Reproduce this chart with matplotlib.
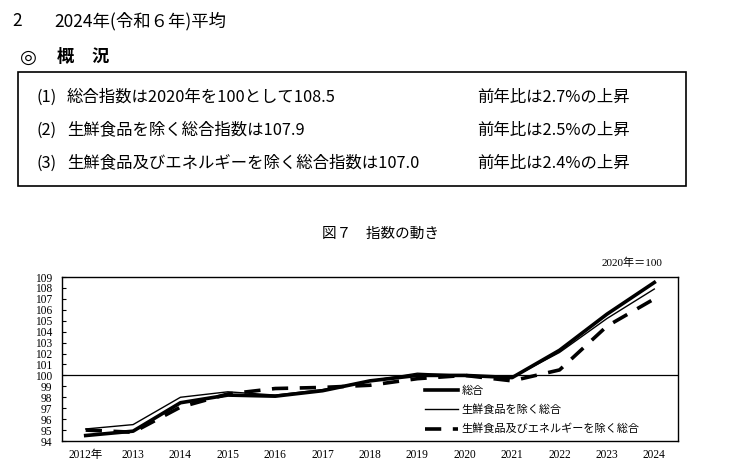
import numpy as np
import matplotlib.pyplot as plt
from matplotlib.patches import Rectangle

plt.rcParams['font.family'] = ['Noto Sans CJK JP', 'DejaVu Sans']

# データ（2020年=100）
years = ["2012年", "2013", "2014", "2015", "2016", "2017", "2018",
         "2019", "2020", "2021", "2022", "2023", "2024"]
sogo = [94.5, 94.9, 97.5, 98.2, 98.1, 98.6, 99.5, 100.0, 100.0, 99.8, 102.3, 105.6, 108.5]
core = [95.1, 95.5, 98.0, 98.5, 98.2, 98.7, 99.5, 100.2, 100.0, 99.8, 102.1, 105.2, 107.9]
corecore = [95.0, 94.8, 97.1, 98.3, 98.8, 98.9, 99.1, 99.7, 100.0, 99.5, 100.5, 104.5, 107.0]
labels = ["総合", "生鮮食品を除く総合", "生鮮食品及びエネルギーを除く総合"]

rows = [("(1)", "総合指数は2020年を100として108.5", "前年比は2.7%の上昇"),
        ("(2)", "生鮮食品を除く総合指数は107.9", "前年比は2.5%の上昇"),
        ("(3)", "生鮮食品及びエネルギーを除く総合指数は107.0", "前年比は2.4%の上昇")]

W, H = 730, 475
fig = plt.figure(figsize=(W / 100, H / 100), dpi=100)

def fx(x):
    return x / W

def fy(y):
    return 1 - y / H

# 見出し
fig.text(fx(12), fy(21), "2", fontsize=12.5, va='center')
fig.text(fx(54), fy(21), "2024年(令和６年)平均", fontsize=12.5, va='center')
fig.text(fx(20), fy(57), "◎", fontsize=14, va='center', family=['DejaVu Sans'])
fig.text(fx(57), fy(57), "概", fontsize=12.5, va='center', weight='bold')
fig.text(fx(92), fy(57), "況", fontsize=12.5, va='center', weight='bold')

# 枠
fig.patches.append(Rectangle((fx(18), fy(186)), fx(686) - fx(18), fy(72) - fy(186),
                             transform=fig.transFigure, fill=False, lw=1.2, ec='black'))
for i, (n, t, r) in enumerate(rows):
    yy = 97 + 33 * i
    fig.text(fx(37), fy(yy), n, fontsize=11.8, va='center')
    fig.text(fx(67), fy(yy), t, fontsize=11.8, va='center')
    fig.text(fx(477), fy(yy), r, fontsize=11.8, va='center')

serif = ['Liberation Serif', 'Noto Sans CJK JP']
fig.text(fx(381), fy(234), "図７　指数の動き", fontsize=10.5, ha='center', va='center')
fig.text(fx(662), fy(263), "2020年＝100", fontsize=8, ha='right', va='center', family=serif)

# グラフ
ax = fig.add_axes([fx(62), fy(441), fx(678) - fx(62), fy(277) - fy(441)])
x = np.arange(len(years))
ax.axhline(100, color='black', lw=0.9)
l1, = ax.plot(x, sogo, color='black', lw=2.6)
l2, = ax.plot(x, core, color='black', lw=1.0)
l3, = ax.plot(x, corecore, color='black', lw=2.6, dashes=(4.5, 3.2))

ax.set_xlim(-0.5, 12.5)
ax.set_ylim(94, 109)
ax.set_yticks(range(94, 110))
ax.set_xticks(x)
ax.set_xticklabels(years, family=serif, fontsize=8.3)
ax.set_yticklabels([str(v) for v in range(94, 110)], family=serif, fontsize=8.3)
ax.tick_params(axis='x', length=0, pad=6)
ax.tick_params(axis='y', direction='in', length=3, pad=7)
for s in ax.spines.values():
    s.set_linewidth(1.0)

leg = ax.legend([l1, l2, l3], labels, loc='center left',
                bbox_to_anchor=(fx(425), fy(410)), bbox_transform=fig.transFigure,
                frameon=False, fontsize=8, handlelength=3.0, handletextpad=0.3,
                labelspacing=0.78, borderpad=0, borderaxespad=0)

fig.savefig("out.png", dpi=100)
